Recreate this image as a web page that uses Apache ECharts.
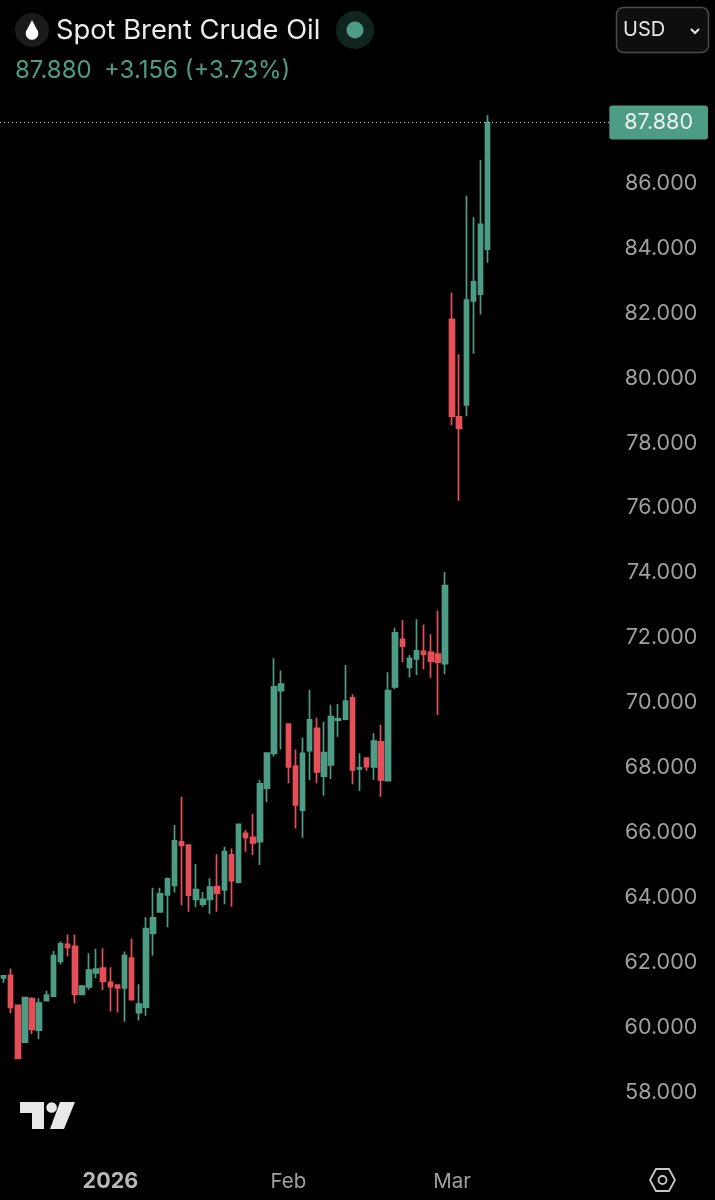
<!DOCTYPE html>
<html>
<head>
<meta charset="utf-8">
<style>html,body{margin:0;background:#000}#main{width:715px;height:1200px}</style>
<script src="https://cdn.jsdelivr.net/npm/echarts@6/dist/echarts.min.js"></script>
</head>
<body>
<div id="main"></div>
<script>
var opens = [61.52,61.60,60.67,59.54,60.88,59.91,60.82,60.96,62.03,62.55,
  62.49,61.01,61.24,61.67,61.82,61.38,61.30,61.21,62.13,60.45,
  60.62,62.89,63.55,64.08,64.37,65.71,65.61,63.94,63.79,63.94,
  64.33,64.23,65.31,64.47,65.97,65.85,65.72,67.37,68.44,70.37,
  69.34,68.05,66.69,68.52,69.21,67.74,68.08,69.46,69.49,70.15,
  67.96,68.29,68.02,68.79,67.60,70.49,71.95,71.09,71.35,71.58,
  71.55,71.50,71.20,81.81,78.81,79.18,82.38,82.59,83.98];
var closes = [61.58,60.61,59.04,60.91,59.93,60.74,60.99,62.21,62.57,62.46,
  61.01,61.27,61.76,61.79,61.41,61.25,61.21,62.21,60.85,60.71,
  63.04,63.37,64.11,64.57,65.74,65.60,64.07,64.24,63.94,64.32,
  64.13,65.41,64.52,66.25,65.85,65.68,67.50,68.45,70.49,70.57,
  68.02,66.85,68.44,69.47,67.87,68.46,69.57,69.50,70.05,67.93,
  67.99,68.03,68.82,67.62,70.37,72.15,71.74,71.37,71.60,71.50,
  71.28,71.25,73.61,78.83,78.46,82.41,82.97,84.74,87.88];
var lows = [61.37,60.43,59.02,59.52,59.79,59.63,60.81,60.95,61.93,62.19,
  60.74,60.99,61.15,61.52,61.15,60.48,60.45,60.17,60.82,60.21,
  60.35,62.20,63.54,63.08,64.15,63.76,63.56,63.70,63.71,63.49,
  63.56,63.79,63.71,64.43,65.41,65.31,65.00,66.93,68.34,68.56,
  67.52,66.12,65.84,67.61,67.52,67.13,67.65,68.95,69.46,67.49,
  67.28,67.90,67.62,67.10,67.59,70.42,71.25,70.78,70.85,71.03,
  70.77,69.62,70.88,78.55,76.22,78.83,80.75,81.96,83.56];
var highs = [61.61,61.81,60.68,60.93,60.92,60.89,61.12,62.35,62.65,62.86,
  62.86,61.30,62.28,62.42,62.43,61.85,61.31,62.33,62.73,61.32,
  63.39,64.30,64.30,64.61,66.23,67.10,65.62,65.03,64.17,64.59,
  65.33,65.56,65.51,66.28,66.08,66.57,67.62,68.46,71.37,70.99,
  69.35,68.56,68.92,70.39,69.54,69.41,69.94,69.96,71.16,70.26,
  68.44,68.32,69.06,69.32,70.94,72.31,72.55,71.47,72.57,72.41,
  72.11,72.84,74.03,82.63,80.74,85.62,84.96,86.73,88.10];

// bar number where each time label sits
var tickBars = [15, 40, 63];
var tickLabels = ['2026', 'Feb', 'Mar'];
var lastPrice = 87.88;
var hiddenTicks = [56, 88]; // 88 sits under the price tag

var barCount = 86; // room on the right of the last candle
var categories = [];
for (var i = 0; i < barCount; i++) categories.push(i);

var candles = opens.map(function (o, i) {
  return [o, closes[i], lows[i], highs[i]];
});

var green = '#4c9c86';
var red = '#e64f57';
var font = 'Inter';

function label(x, y, text, size, color, extra) {
  return {
    type: 'text', x: x, y: y, z: 100,
    style: Object.assign({ text: text, fontFamily: font, fontSize: size, fill: color, textVerticalAlign: 'middle' }, extra || {})
  };
}

var chart = echarts.init(document.getElementById('main'), null, { renderer: 'canvas' });
chart.setOption({
  animation: false,
  backgroundColor: '#000',
  grid: { left: -0.87, top: 53.7, width: 613.18, height: 1103.3 },
  xAxis: {
    type: 'category',
    data: categories,
    axisLine: { show: false },
    axisTick: { show: false },
    splitLine: { show: false },
    axisLabel: {
      margin: 14,
      interval: function (index) { return tickBars.indexOf(index) >= 0; },
      formatter: function (v) {
        var t = tickLabels[tickBars.indexOf(Number(v))];
        return t === '2026' ? '{year|' + t + '}' : t;
      },
      color: '#a0a0a0',
      fontFamily: font,
      fontSize: 20.5,
      rich: { year: { color: '#b8b8b8', fontFamily: font, fontSize: 21.5, fontWeight: 'bold' } }
    }
  },
  yAxis: {
    type: 'value',
    position: 'right',
    min: 56,
    max: 90,
    interval: 2,
    axisLine: { show: false },
    axisTick: { show: false },
    splitLine: { show: false },
    axisLabel: {
      margin: 85,
      align: 'right',
      color: '#a0a0a0',
      fontFamily: font,
      fontSize: 21.5,
      padding: [6, 0, 0, 0],
      formatter: function (v) { return hiddenTicks.indexOf(v) >= 0 ? '' : v.toFixed(3); }
    }
  },
  series: [{
    type: 'candlestick',
    data: candles,
    barWidth: 5,
    itemStyle: { color: green, color0: red, borderColor: green, borderColor0: red, borderWidth: 1.7 },
    markLine: {
      silent: true,
      symbol: 'none',
      animation: false,
      lineStyle: { type: [1, 3], color: '#c4c4c4', width: 1 },
      label: {
        position: 'end',
        distance: -3,
        formatter: lastPrice.toFixed(3),
        color: '#f0f0f0',
        fontFamily: font,
        fontSize: 21.5,
        backgroundColor: green,
        borderRadius: 3,
        padding: [7, 15, 5, 15]
      },
      data: [{ yAxis: lastPrice }]
    }
  }],
  graphic: [
    // header
    { type: 'circle', z: 100, shape: { cx: 32, cy: 30, r: 17 }, style: { fill: '#1b1b1e' } },
    { type: 'circle', z: 101, shape: { cx: 32, cy: 33.5, r: 6.3 }, style: { fill: '#fff' } },
    { type: 'polygon', z: 101, shape: { points: [[32, 20], [26.3, 31], [37.7, 31]] }, style: { fill: '#fff' } },
    label(56, 31, 'Spot Brent Crude Oil', 27.3, '#ececec'),
    { type: 'circle', z: 100, shape: { cx: 355, cy: 30, r: 19 }, style: { fill: '#10251f' } },
    { type: 'circle', z: 101, shape: { cx: 355, cy: 30, r: 8.5 }, style: { fill: green } },
    label(15, 71, '87.880', 24, green),
    label(104, 71, '+3.156 (+3.73%)', 24, green),
    // currency button, it covers the top of the 90.000 tick as in the app
    { type: 'rect', z: 99, shape: { x: 612, y: 50, width: 100, height: 10.5 }, style: { fill: '#000' } },
    { type: 'rect', z: 100, shape: { x: 616.5, y: 7.5, width: 92, height: 45, r: 7 }, style: { fill: '#0e0e0e', stroke: '#4a4a4a', lineWidth: 1.5 } },
    label(623, 30, 'USD', 20, '#e6e6e6'),
    { type: 'polyline', z: 101, shape: { points: [[691, 29], [695, 33], [699, 29]] }, style: { fill: 'none', stroke: '#e6e6e6', lineWidth: 2 } },
    // logo
    { type: 'polygon', z: 100, shape: { points: [[20, 1102], [44, 1102], [44, 1129], [32, 1129], [32, 1113], [20, 1113]] }, style: { fill: '#e8e8e8' } },
    { type: 'circle', z: 100, shape: { cx: 51.6, cy: 1107.5, r: 5.3 }, style: { fill: '#e8e8e8' } },
    { type: 'polygon', z: 100, shape: { points: [[60, 1102], [75, 1102], [64, 1129], [50, 1129]] }, style: { fill: '#e8e8e8' } },
    // settings
    { type: 'polygon', z: 100, shape: { points: [[650, 1180], [656, 1169], [669, 1169], [675, 1180], [669, 1191], [656, 1191]] }, style: { fill: 'none', stroke: '#c8c8c8', lineWidth: 1.8 } },
    { type: 'circle', z: 100, shape: { cx: 662.5, cy: 1180, r: 4 }, style: { fill: 'none', stroke: '#c8c8c8', lineWidth: 1.8 } }
  ]
});
</script>
</body>
</html>
